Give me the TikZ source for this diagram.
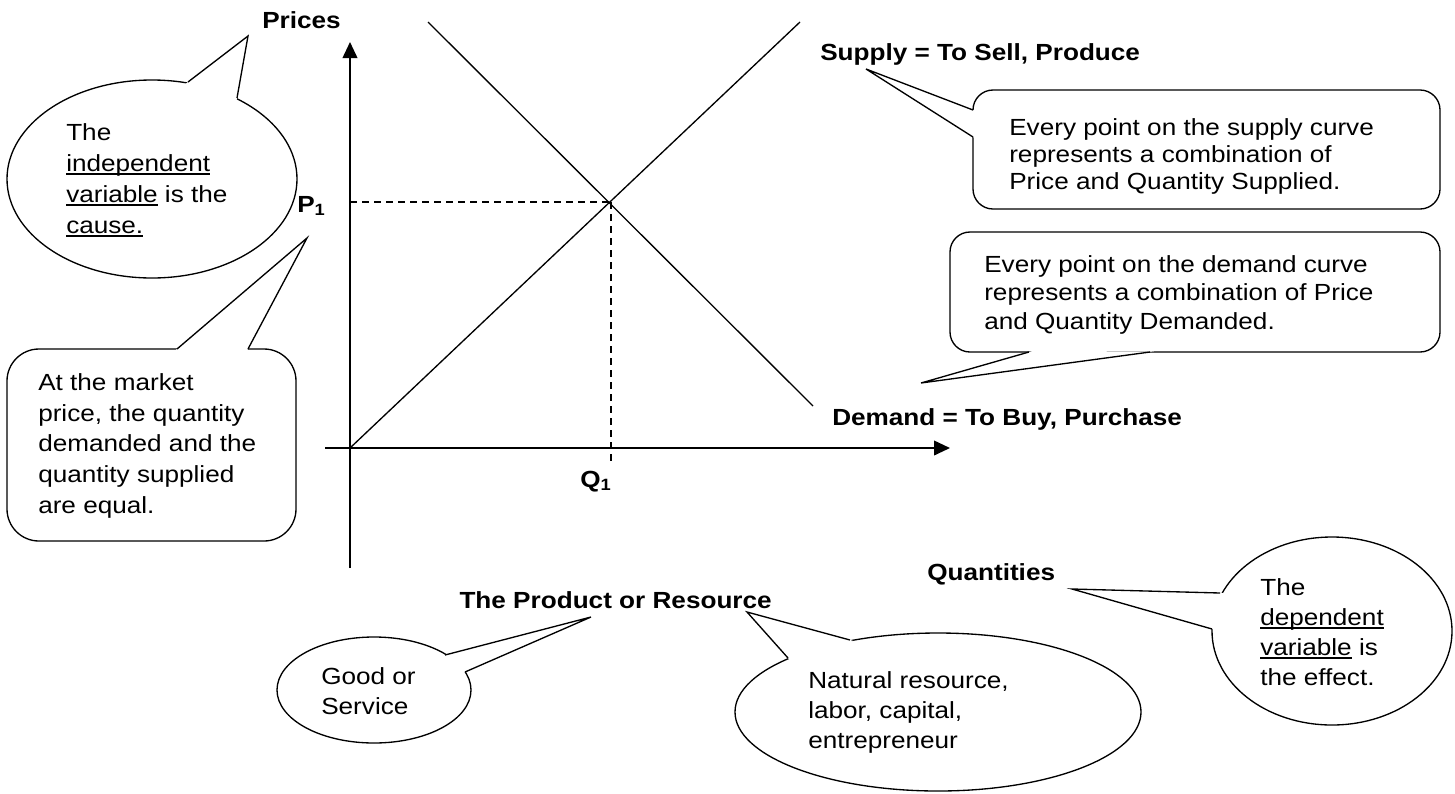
\documentclass[tikz,border=0pt]{standalone}
\usepackage{fontspec}
\setmainfont{Liberation Sans}[FakeStretch=1.12]
\usetikzlibrary{arrows.meta,shapes.geometric,calc}
\newlength\ulwd
\newcommand\myul[1]{\settowidth\ulwd{#1}\rlap{\rule[-0.145em]{\ulwd}{0.075em}}#1}
\newcommand\firststrut{\rule{0pt}{15pt}}
\newcommand\bubptr[3]{%
  \fill[white] ($(#1)!-3pt!(#2)$) -- (#2) -- ($(#3)!-3pt!(#2)$) -- cycle;
  \draw[ptr] (#1) -- (#2) -- (#3);}
\tikzset{
  bub/.style={draw, line width=1pt, fill=white, inner sep=0pt},
  ell/.style={bub, ellipse},
  rbox/.style={bub, rectangle, rounded corners=#1},
  txt/.style={anchor=north west, inner sep=0pt, align=left, font=\fontsize{17.5}{#1}\selectfont},
  lbl/.style={anchor=base west, inner sep=0pt, font=\fontsize{17.5}{21}\selectfont\bfseries},
  ptr/.style={line width=1pt, line join=miter},
  curve/.style={line width=1pt},
  axis/.style={line width=1.3pt, -{Triangle[length=12pt,width=11pt]}},
  guide/.style={line width=1.5pt, dash pattern=on 5.5pt off 3.5pt},
}
\begin{document}
\begin{tikzpicture}[x=0.75pt, y=-0.75pt]
\useasboundingbox (0,0) rectangle (1455,793);

% ---- axes and curves
\coordinate (O) at (350,448);
\coordinate (ytop) at (350,42);
\coordinate (ybot) at (350,568);
\coordinate (xleft) at (325,448);
\coordinate (xright) at (950,448);
\coordinate (Stop) at (800,22);
\coordinate (Dtop) at (428,22);
\coordinate (Dend) at (813,406);
\coordinate (E) at (611,202);
\coordinate (P1pt) at (350,202);
\coordinate (Q1pt) at (611,462);

\draw[axis] (ybot) -- (ytop);
\draw[axis] (xleft) -- (xright);
\draw[curve] (O) -- (Stop);
\draw[curve] (Dtop) -- (Dend);
\draw[guide] (P1pt) -- (E);
\draw[guide] (E) -- (Q1pt);

% ---- labels
\node[lbl] (prices) at (262,28) {Prices};
\node[lbl] (p1) at (297,212) {P\textsubscript{1}};
\node[lbl] (q1) at (580,487) {Q\textsubscript{1}};
\node[lbl] (supply) at (820,60) {Supply = To Sell, Produce};
\node[lbl] (demand) at (832,425) {Demand = To Buy, Purchase};
\node[lbl] (quant) at (927,580) {Quantities};
\node[lbl, anchor=base east] (product) at (772,608) {The Product or Resource};

% ---- callout: independent variable
\node[ell, minimum width=290*0.75pt, minimum height=198*0.75pt] (indep) at (152,179) {};
\coordinate (indepA) at (188,82);
\coordinate (indepTip) at (248,36);
\coordinate (indepB) at (237,98);
\bubptr{indepA}{indepTip}{indepB}
\node[txt=23.25pt] (indepT) at (66,120) {\firststrut The\\ \myul{independent}\\ \myul{variable} is the\\ \myul{cause.}};

% ---- callout: market price
\node[rbox=24pt, minimum width=289*0.75pt, minimum height=192*0.75pt] (market) at (151.5,445) {};
\coordinate (marketA) at (177,349);
\coordinate (marketTip) at (307,238);
\coordinate (marketB) at (248,349);
\bubptr{marketA}{marketTip}{marketB}
\node[txt=23.1pt] (marketT) at (38,370) {\firststrut At the market\\ price, the quantity\\ demanded and the\\ quantity supplied\\ are equal.};

% ---- callout: supply curve
\node[rbox=15pt, minimum width=467*0.75pt, minimum height=119*0.75pt] (sbox) at (1206.5,149.5) {};
\coordinate (sboxA) at (973,110);
\coordinate (sboxTip) at (866,69);
\coordinate (sboxB) at (973,137);
\bubptr{sboxA}{sboxTip}{sboxB}
\node[txt=20.25pt] (sboxT) at (1009,115) {\firststrut Every point on the supply curve\\ represents a combination of\\ Price and Quantity Supplied.};

% ---- callout: demand curve
\node[rbox=15pt, minimum width=490*0.75pt, minimum height=120*0.75pt] (dbox) at (1195,292) {};
\coordinate (dboxA) at (1029,352);
\coordinate (dboxTip) at (921,383);
\coordinate (dboxB) at (1150,352);
\bubptr{dboxA}{dboxTip}{dboxB}
\node[txt=21.4pt] (dboxT) at (984,252) {\firststrut Every point on the demand curve\\ represents a combination of Price\\ and Quantity Demanded.};

% ---- callout: good or service
\node[ell, minimum width=194*0.75pt, minimum height=106*0.75pt] (good) at (374,690) {};
\coordinate (goodA) at (445,655);
\coordinate (goodTip) at (591,617);
\coordinate (goodB) at (465,672);
\bubptr{goodA}{goodTip}{goodB}
\node[txt=22.5pt] (goodT) at (321,664) {\firststrut Good or\\ Service};

% ---- callout: natural resource
\node[ell, minimum width=406*0.75pt, minimum height=158*0.75pt] (nat) at (938,712) {};
\coordinate (natA) at (850,640);
\coordinate (natTip) at (747,612);
\coordinate (natB) at (788,658);
\bubptr{natA}{natTip}{natB}
\node[txt=22.5pt] (natT) at (808,668) {\firststrut Natural resource,\\ labor, capital,\\ entrepreneur};

% ---- callout: dependent variable
\node[ell, minimum width=240*0.75pt, minimum height=188*0.75pt] (dep) at (1332,631) {};
\coordinate (depA) at (1220,593);
\coordinate (depTip) at (1072,589);
\coordinate (depB) at (1212,629);
\bubptr{depA}{depTip}{depB}
\node[txt=22.5pt] (depT) at (1260,575) {\firststrut The\\ \myul{dependent}\\ \myul{variable} is\\ the effect.};
\end{tikzpicture}
\end{document}
